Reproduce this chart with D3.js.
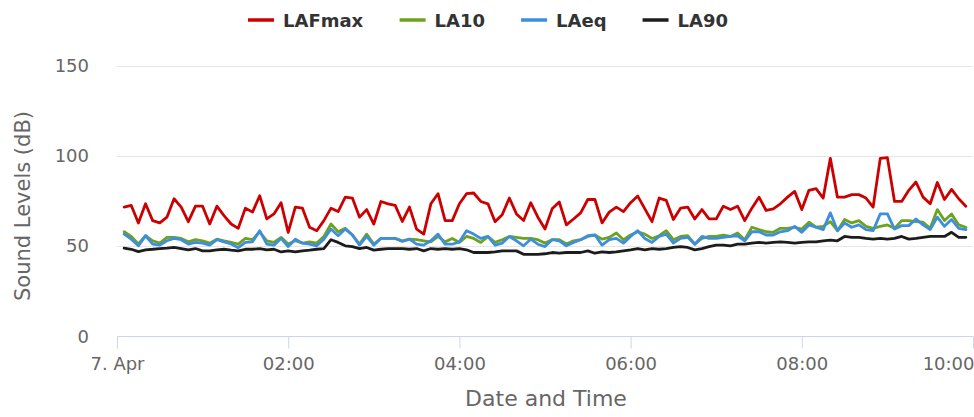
<!DOCTYPE html>
<html>
<head>
<meta charset="utf-8">
<script src="https://cdn.jsdelivr.net/npm/d3@7"></script>
<style>
	body { margin: 0; background: #fff; }
	#chart text { font-family: "DejaVu Sans", Verdana, sans-serif; }
</style>
</head>
<body>
<div id="chart"></div>
<script>
// 5 minute readings, first one at 00:05 on 7 April
var startTime = new Date(2021, 3, 7, 0, 5);
var stepMinutes = 5;

var seriesNames = ["LAFmax", "LA10", "LAeq", "LA90"];
var seriesColors = ["#cc0000", "#6ca31c", "#3d8ee0", "#1c1c1c"];

var lafmax = [71.5,72.4,62.7,73.3,64,62.7,65.9,76.1,71.5,63.4,72,72,62.1,72,66.8,62.1,59.7,70.9,68.7,77.8,
	64.9,67.7,73.9,57.5,71.5,70.9,60.3,58.4,64,70.9,69,77,76.5,65.9,70.1,62.1,74.6,73.3,72.4,63.5,
	71.5,59.3,56.5,73.3,78.9,64,64,73.3,78.9,79.3,74.6,73.3,63.4,67.2,76.5,67.7,64,73.9,65.9,59.3,
	70.5,74.3,61.6,64.9,68.3,75.7,75.7,62.7,68.7,71.5,69,73.9,77.6,70.5,63.4,76.5,75.2,64.6,70.9,71.5,
	64.9,70.1,64.9,64.9,72,70.1,72,64,70.9,77,69.6,70.5,73.3,77,80.2,70.1,80.8,81.7,76.5,98.5,
	77,77,78.4,78.4,76.5,71.5,98.5,98.9,74.6,74.6,80.8,85.4,77,73.3,85.1,75.7,81.3,76.1,72];

var la10 = [57.8,55.2,51,55.6,52.8,51.5,54.7,54.7,54.1,52.2,53.4,52.8,51.5,53.7,52.8,51.9,51,54.1,53.4,57.8,
	52.8,51.9,54.7,51,52.8,51.5,52.2,51.5,55.2,62.1,57.8,59.7,56,51,56.5,51,54.1,54.1,54.1,52.8,
	53.7,53.4,52.8,52.2,55.2,52.2,54.1,51.9,55.2,54.1,51.9,55.2,51.9,53.4,55.2,54.7,54.1,54.1,53.4,51.5,
	53.4,53.4,51,52.8,53.4,55.2,56,53.7,54.7,57.1,53.4,56,57.8,56.5,54.1,55.6,58.4,53.4,55.2,55.6,
	51,54.1,55.2,55.2,56,55.2,57.1,53.4,60.3,59,57.8,57.5,59.7,59.7,60.3,59.3,63.1,60.3,60.8,63.4,
	58.4,64.6,62.7,64,60.8,59.7,60.8,61.6,59.7,64,64,63.4,63.1,59.7,70.1,64,67.7,61.6,60.3];

var laeq = [56.5,53.7,50,55.6,51,50.4,52.8,54.1,53.4,51,51.9,51.5,50.4,53.4,52.2,51,49,51.9,52.2,58.4,
	50.9,50.4,54.1,49.6,53.7,51.5,50.9,50,53.7,59.3,55.6,59.3,56,50.4,55.2,50.4,54.1,54.1,54.1,52.4,
	53.7,50.9,50.4,52.8,56.5,50.9,50.9,52.2,58.4,56.5,54.1,55.2,50.4,51.5,55.2,52.8,50,53.7,50.9,49.6,
	53.4,52.8,50,51.9,53.4,55.6,56,50.4,53.4,54.1,51.5,55.2,58.4,54.1,51.9,55.2,56.5,51.5,54.1,54.7,
	50.9,55.2,54.1,54.1,54.7,55.2,55.6,52.8,57.8,57.8,56,56,57.8,58.4,60.8,57.5,61.6,60.3,59,68.3,
	58.4,62.7,60.3,61.6,59,58.4,67.7,67.7,59.3,61.2,61.2,64.9,61.6,59,65.9,60.8,64.6,59.7,59];

var la90 = [48.7,48.1,46.8,47.8,48.1,48.5,48.7,49.1,48.5,47.8,48.5,47.2,47.2,47.8,48.1,47.6,47.2,48.1,48.1,48.5,
	47.8,48.1,46.6,47.2,46.6,47.2,47.6,48.1,48.5,53.4,51.9,50,49.6,48.5,49.1,47.6,48.1,48.5,48.5,48.5,
	48.1,48.5,47.2,48.5,48.1,48.5,48.1,48.5,47.8,46.3,46.3,46.3,46.6,47.2,47.2,47.2,45.3,45.3,45.3,45.6,
	46.3,45.9,46.3,46.3,46.3,47.2,45.9,46.6,46.3,46.6,47.2,47.8,48.5,47.8,48.5,48.1,48.5,49.1,49.6,49.1,
	47.8,48.5,49.6,50.4,50.4,50,50.9,50.9,51.5,51.9,51.5,51.9,52.2,51.9,51.5,51.9,52.2,52.2,52.8,53.2,
	52.8,55.2,54.7,54.7,54.1,53.7,54.1,53.7,54.1,55.2,53.7,54.1,54.7,55.2,55.2,55.2,57.5,54.7,54.7];

var yTicks = [0, 50, 100, 150];
var axisStart = new Date(2021, 3, 7, 0, 0);
var axisEnd = new Date(2021, 3, 7, 10, 0);

var soundChart = function(options){

	var self = {};

	for (var key in options) {
		self[key] = options[key];
	}

	self.init = function(){

		self.svg = d3.select("#" + self.parentId).append("svg")
			.attr("width", self.width)
			.attr("height", self.height);

		self.x = d3.scaleTime()
			.domain([axisStart, axisEnd])
			.range([self.plot.left, self.plot.right]);

		self.y = d3.scaleLinear()
			.domain([0, 150])
			.range([self.plot.bottom, self.plot.top]);
	};

	self.render = function(){

		var x = self.x, y = self.y, svg = self.svg;

		// horizontal grid
		svg.append("g").selectAll("line")
			.data(yTicks.filter(function(d){ return d > 0; }))
			.enter().append("line")
			.attr("x1", self.plot.left)
			.attr("x2", self.plot.right)
			.attr("y1", function(d){ return Math.round(y(d)) + 0.5; })
			.attr("y2", function(d){ return Math.round(y(d)) + 0.5; })
			.attr("stroke", "#e6e6e6")
			.attr("stroke-width", 1);

		// y labels
		svg.append("g").selectAll("text")
			.data(yTicks)
			.enter().append("text")
			.attr("x", 89)
			.attr("y", function(d){ return y(d) + 6.5; })
			.attr("text-anchor", "end")
			.attr("fill", "#666")
			.style("font-size", "18px")
			.text(function(d){ return d; });

		svg.append("text")
			.attr("transform", "translate(30,206) rotate(-90)")
			.attr("text-anchor", "middle")
			.attr("fill", "#666")
			.style("font-size", "21px")
			.text("Sound Levels (dB)");

		// x axis
		var xAxis = d3.axisBottom(x)
			.ticks(d3.timeHour.every(2))
			.tickSize(12)
			.tickPadding(9)
			.tickFormat(function(d){
				return d.getHours() === 0 ? d3.timeFormat("%-d. %b")(d) : d3.timeFormat("%H:%M")(d);
			});

		var gx = svg.append("g")
			.attr("transform", "translate(0," + (Math.round(self.plot.bottom) + 0.5) + ")")
			.call(xAxis);

		gx.select(".domain")
			.attr("stroke", "#ccd6eb")
			.attr("d", "M" + self.plot.left + ",0H" + self.plot.right);
		gx.selectAll(".tick line").attr("stroke", "#ccd6eb");
		gx.selectAll(".tick text")
			.attr("fill", "#666")
			.style("font-size", "18px")
			.attr("text-anchor", function(d, i, nodes){
				return i === nodes.length - 1 ? "end" : "middle";
			})
			.attr("dx", function(d, i, nodes){
				return i === nodes.length - 1 ? "1" : "0";
			});

		svg.append("text")
			.attr("x", 546)
			.attr("y", 406)
			.attr("text-anchor", "middle")
			.attr("fill", "#666")
			.style("font-size", "22px")
			.text("Date and Time");

		// series lines
		var line = d3.line()
			.x(function(d, i){ return x(d3.timeMinute.offset(startTime, i * stepMinutes)); })
			.y(function(d){ return y(d); });

		var allSeries = [lafmax, la10, laeq, la90];

		svg.append("g").selectAll("path")
			.data(allSeries)
			.enter().append("path")
			.attr("d", line)
			.attr("fill", "none")
			.attr("stroke", function(d, i){ return seriesColors[i]; })
			.attr("stroke-width", 2.8)
			.attr("stroke-linejoin", "round")
			.attr("stroke-linecap", "round");

		// legend, centred over the chart
		var legend = svg.append("g");
		var items = legend.selectAll("g")
			.data(seriesNames)
			.enter().append("g");

		items.append("line")
			.attr("x1", 0).attr("x2", 26)
			.attr("y1", 20).attr("y2", 20)
			.attr("stroke", function(d, i){ return seriesColors[i]; })
			.attr("stroke-width", 3.5);

		items.append("text")
			.attr("x", 35)
			.attr("y", 27)
			.attr("fill", "#333")
			.style("font-size", "18px")
			.style("font-weight", "bold")
			.text(function(d){ return d; });

		var pos = 0, gap = 36;
		items.each(function(){
			var w = this.getBBox().width;
			d3.select(this).attr("transform", "translate(" + pos + ",0)");
			pos += w + gap;
		});
		legend.attr("transform", "translate(" + (488 - (pos - gap) / 2) + ",0)");
	};

	self.init();
	return self;
};

var chart = soundChart({
	parentId : "chart",
	width : 974,
	height : 417,
	plot : { left: 117, right: 973, top: 65.5, bottom: 336 }
});

chart.render();
</script>
</body>
</html>
